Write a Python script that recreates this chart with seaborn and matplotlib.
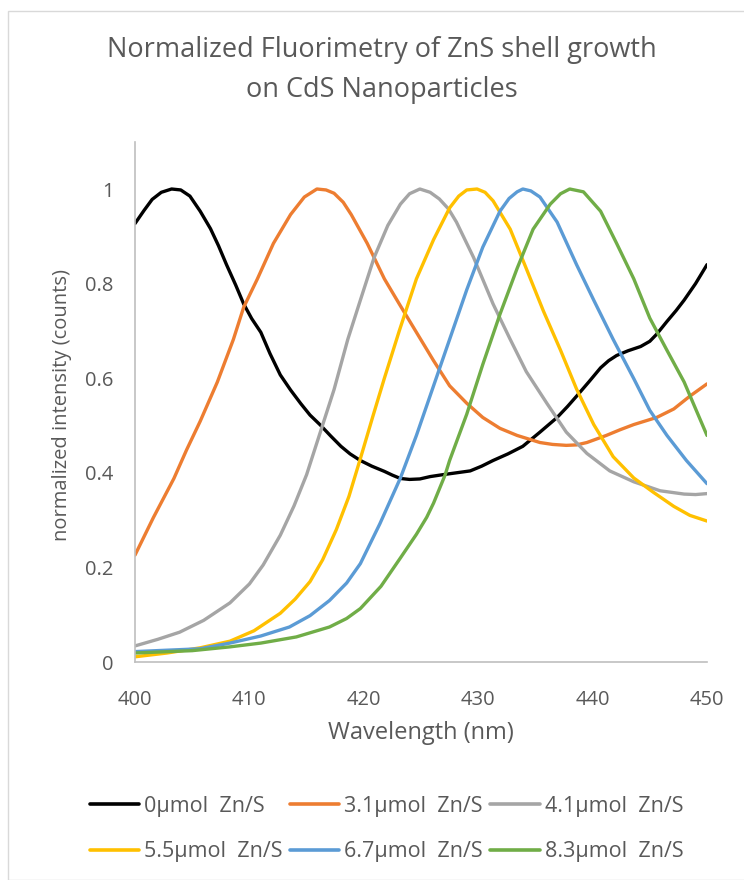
import matplotlib
matplotlib.use("Agg")
import matplotlib.pyplot as plt
import seaborn as sns
import pandas as pd
from matplotlib.patches import Rectangle

# ---- data ----
series_names = ["0\u00b5mol  Zn/S", "3.1\u00b5mol  Zn/S", "4.1\u00b5mol  Zn/S",
                "5.5\u00b5mol  Zn/S", "6.7\u00b5mol  Zn/S", "8.3\u00b5mol  Zn/S"]
series_colors = ["#000000", "#ED7D31", "#A5A5A5", "#FFC000", "#5B9BD5", "#70AD47"]

wl_0 = [400, 400.8, 401.5, 402.3, 403.2, 404.0, 404.8, 405.7, 406.6, 407.3, 408.0, 408.8, 409.5,
        410.2, 411.0, 411.8, 412.7, 413.6, 414.5, 415.3, 416.2, 417.1, 418.0, 418.8, 419.7,
        420.7, 421.8, 422.5, 423.2, 424.0, 424.9, 425.8, 426.9, 428.1, 429.3, 430.3, 431.3,
        432.6, 433.9, 435.4, 436.9, 437.8, 438.6, 439.7, 440.7, 441.4, 442.1, 443.1, 444.2,
        445.0, 445.6, 446.5, 447.3, 448.0, 449.0, 450.0]
int_0 = [0.927, 0.955, 0.978, 0.993, 1.0, 0.998, 0.985, 0.953, 0.916, 0.880, 0.840, 0.797, 0.757,
         0.726, 0.697, 0.652, 0.607, 0.575, 0.546, 0.522, 0.501, 0.478, 0.456, 0.440, 0.426,
         0.414, 0.403, 0.395, 0.388, 0.386, 0.387, 0.392, 0.396, 0.400, 0.404, 0.414, 0.426,
         0.440, 0.456, 0.486, 0.517, 0.540, 0.562, 0.593, 0.622, 0.637, 0.648, 0.658, 0.667,
         0.678, 0.693, 0.720, 0.743, 0.765, 0.800, 0.840]

wl_31 = [400, 401.6, 403.4, 404.5, 405.7, 407.2, 408.6, 409.5, 410.7, 412.1, 413.6, 414.8, 415.9,
         416.7, 417.4, 418.2, 418.9, 420.3, 421.8, 423.1, 424.6, 426.1, 427.5, 429.0, 430.4,
         431.9, 433.4, 435.4, 436.5, 437.7, 438.6, 439.5, 441.2, 442.4, 443.6, 445.6, 447.1,
         448.5, 450.0]
int_31 = [0.226, 0.305, 0.388, 0.448, 0.509, 0.592, 0.682, 0.750, 0.810, 0.885, 0.946, 0.983, 1.0,
          0.998, 0.991, 0.972, 0.946, 0.885, 0.810, 0.757, 0.697, 0.637, 0.584, 0.547, 0.517,
          0.494, 0.479, 0.464, 0.460, 0.458, 0.459, 0.464, 0.479, 0.491, 0.502, 0.517, 0.535,
          0.562, 0.588]

wl_41 = [400, 402.0, 403.9, 406.0, 408.3, 410.0, 411.2, 412.7, 413.9, 415.0, 416.2, 417.4, 418.6,
         419.7, 420.9, 422.1, 423.2, 424.0, 424.9, 425.8, 426.6, 427.4, 428.1, 429.6, 431.3,
         432.8, 434.2, 436.0, 437.7, 439.5, 441.5, 443.6, 445.9, 448.0, 449.0, 450.0]
int_41 = [0.034, 0.048, 0.063, 0.088, 0.125, 0.165, 0.205, 0.268, 0.330, 0.396, 0.486, 0.576, 0.682,
          0.765, 0.855, 0.923, 0.968, 0.990, 1.0, 0.993, 0.979, 0.958, 0.930, 0.855, 0.757,
          0.682, 0.614, 0.547, 0.486, 0.441, 0.404, 0.381, 0.362, 0.355, 0.354, 0.356]

wl_55 = [400, 402.8, 405.7, 408.3, 410.4, 412.7, 414.0, 415.3, 416.4, 417.6, 418.7, 419.7, 420.8,
         421.8, 423.1, 424.6, 426.1, 427.5, 428.3, 429.0, 429.9, 430.6, 431.3, 432.8, 434.2,
         435.7, 437.2, 438.6, 440.1, 441.8, 443.6, 445.3, 447.1, 448.5, 450.0]
int_55 = [0.011, 0.019, 0.030, 0.044, 0.066, 0.103, 0.133, 0.170, 0.216, 0.280, 0.350, 0.430, 0.520,
          0.600, 0.700, 0.810, 0.893, 0.960, 0.985, 0.998, 1.0, 0.993, 0.975, 0.915, 0.832,
          0.742, 0.659, 0.577, 0.502, 0.434, 0.389, 0.359, 0.329, 0.310, 0.298]

wl_67 = [400, 405.7, 408.3, 411.0, 413.5, 415.3, 417.0, 418.5, 419.7, 421.4, 423.2, 424.6, 426.1,
         427.5, 429.0, 430.4, 431.9, 432.7, 433.4, 433.9, 434.6, 435.4, 436.9, 438.6, 440.1,
         441.8, 443.6, 445.0, 446.5, 448.2, 450.0]
int_67 = [0.022, 0.028, 0.040, 0.055, 0.074, 0.098, 0.130, 0.167, 0.208, 0.292, 0.389, 0.479, 0.584,
          0.682, 0.787, 0.877, 0.953, 0.980, 0.994, 1.0, 0.996, 0.983, 0.930, 0.840, 0.765,
          0.682, 0.599, 0.532, 0.479, 0.426, 0.377]

wl_83 = [400, 405.0, 408.3, 411.0, 414.1, 417.0, 418.5, 419.7, 421.5, 423.2, 424.6, 425.5, 426.1,
         427.1, 427.5, 429.0, 430.4, 431.9, 433.4, 434.8, 436.3, 437.2, 438.0, 439.2, 440.7,
         442.1, 443.6, 445.0, 446.5, 448.0, 450.0]
int_83 = [0.019, 0.024, 0.032, 0.040, 0.053, 0.074, 0.092, 0.113, 0.160, 0.220, 0.270, 0.306, 0.336,
          0.395, 0.426, 0.524, 0.629, 0.735, 0.832, 0.915, 0.968, 0.990, 1.0, 0.994, 0.953,
          0.885, 0.810, 0.727, 0.659, 0.592, 0.479]

x_ticks = [400, 410, 420, 430, 440, 450]
y_ticks = [0, 0.2, 0.4, 0.6, 0.8, 1.0]
y_tick_labels = ["0", "0.2", "0.4", "0.6", "0.8", "1"]

title_lines = ["Normalized Fluorimetry of ZnS shell growth", "on CdS Nanoparticles"]
x_label = "Wavelength (nm)"
y_label = "normalized intensity (counts)"

# ---- build long-form table ----
all_wl = [wl_0, wl_31, wl_41, wl_55, wl_67, wl_83]
all_int = [int_0, int_31, int_41, int_55, int_67, int_83]
frames = []
for name, w, v in zip(series_names, all_wl, all_int):
    frames.append(pd.DataFrame({"wl": w, "val": v, "series": name}))
df = pd.concat(frames, ignore_index=True)

sns.set_theme(style="white")
plt.rcParams["font.family"] = ["Open Sans", "DejaVu Sans"]
text_color = "#595959"

W, H = 744, 880
fig = plt.figure(figsize=(W / 100, H / 100), dpi=100)
ax = fig.add_axes([135 / W, 1 - 662 / H, (707 - 135) / W, (662 - 141.7) / H])

sns.lineplot(data=df, x="wl", y="val", hue="series", hue_order=series_names,
             palette=series_colors, sort=False, estimator=None, linewidth=2.4,
             legend=False, ax=ax)
for ln in ax.get_lines():
    ln.set_solid_capstyle("round")
    ln.set_solid_joinstyle("round")

ax.set_xlim(400, 450)
ax.set_ylim(0, 1.1)
ax.set_xticks(x_ticks)
ax.set_xticklabels([str(t) for t in x_ticks])
ax.set_yticks(y_ticks)
ax.set_yticklabels(y_tick_labels)
ax.set_xlabel("")
ax.set_ylabel("")
ax.tick_params(axis="both", length=0, labelsize=14.5, colors=text_color)
ax.tick_params(axis="x", pad=20)
ax.tick_params(axis="y", pad=15.5)
for s in ["top", "right"]:
    ax.spines[s].set_visible(False)
for s in ["left", "bottom"]:
    ax.spines[s].set_color("#BFBFBF")
    ax.spines[s].set_linewidth(1.2)
ax.grid(False)

fig.text(421 / W, 1 - 733 / H, x_label, ha="center", va="center",
         fontsize=17, color=text_color)
fig.text(62 / W, 1 - 405 / H, y_label, ha="center", va="center", rotation=90,
         fontsize=14.5, color=text_color)

fig.text(382 / W, 1 - 50 / H, title_lines[0], ha="center", va="center",
         fontsize=19.5, color=text_color)
fig.text(382 / W, 1 - 90 / H, title_lines[1], ha="center", va="center",
         fontsize=19.5, color=text_color)

lines = ax.get_lines()[:6]
order = [0, 3, 1, 4, 2, 5]  # fill legend row by row
leg = fig.legend([lines[i] for i in order], [series_names[i] for i in order],
                 loc="center", ncol=3, bbox_to_anchor=(386.5 / W, 1 - 829 / H),
                 frameon=False, fontsize=15.5, handlelength=2.3, handletextpad=0.23,
                 columnspacing=0.33, labelspacing=1.14, borderaxespad=0, borderpad=0)
for t in leg.get_texts():
    t.set_color(text_color)
for h in leg.legend_handles:
    h.set_linewidth(2.6)

fig.patches.append(Rectangle((8 / W, 0), 2, 1 - 11 / H, transform=fig.transFigure,
                             fill=False, edgecolor="#D9D9D9", linewidth=1.0))

fig.savefig("out.png", dpi=100, facecolor="white")
